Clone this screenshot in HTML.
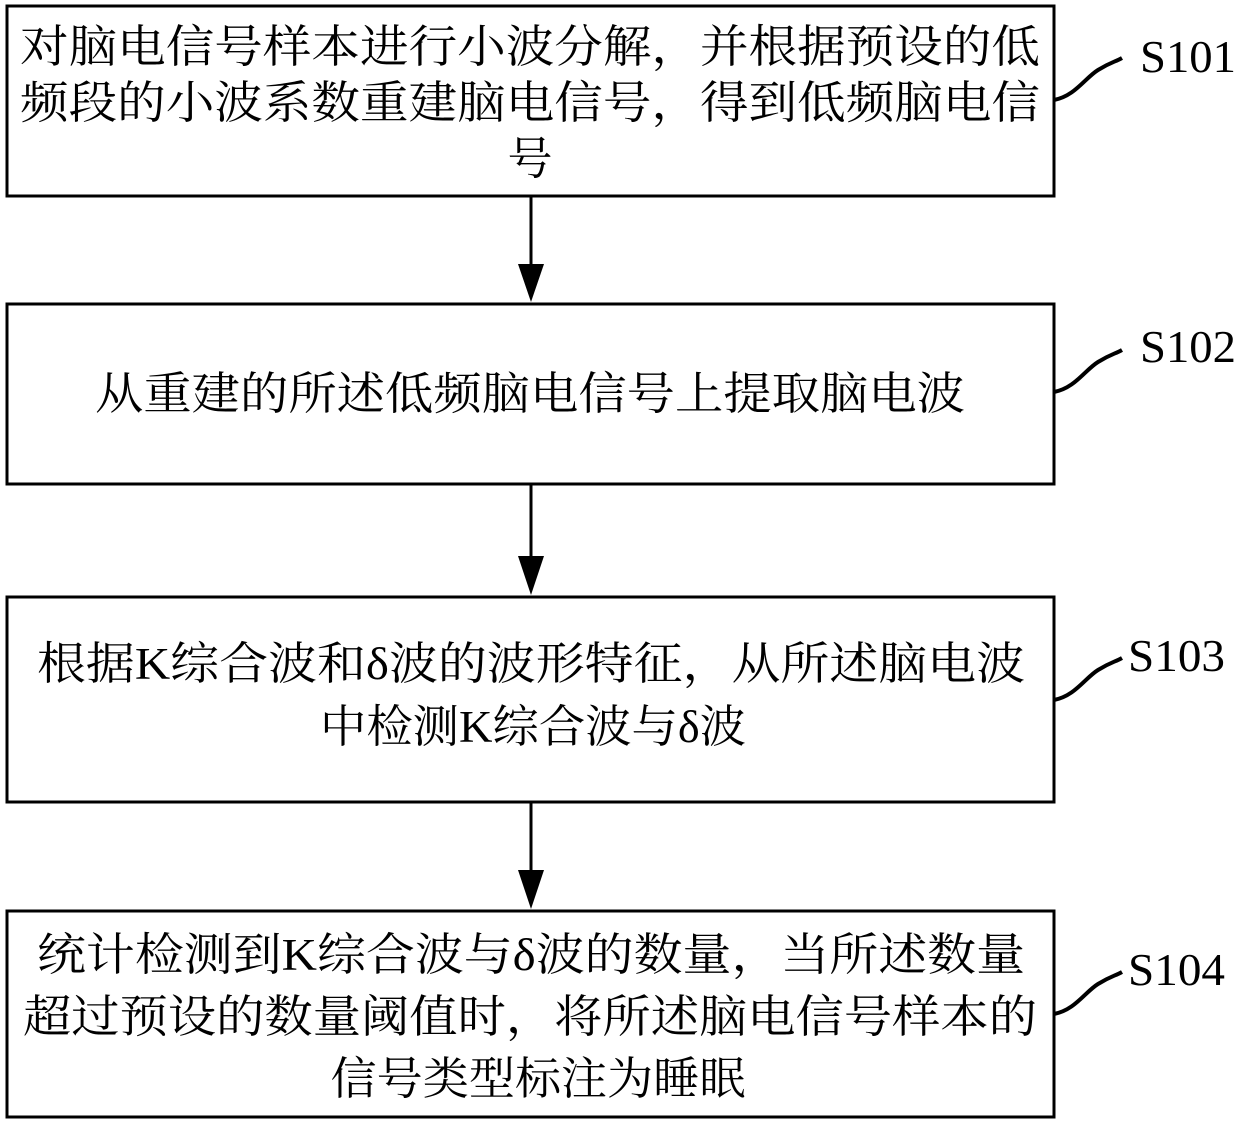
<!DOCTYPE html>
<html><head><meta charset="utf-8"><style>
html,body{margin:0;padding:0;background:#fff;}
svg{display:block;}
text{font-family:"Liberation Serif","Noto Serif CJK SC",serif;fill:#000;}
.c{font-size:45px;}
.l{font-size:46px;}
</style></head><body>
<svg width="1240" height="1125" viewBox="0 0 1240 1125" xmlns="http://www.w3.org/2000/svg">
<g fill="none" stroke="#000" stroke-width="3">
<rect x="7" y="6" width="1047" height="190"/>
<rect x="7" y="304" width="1047" height="180"/>
<rect x="7" y="597" width="1047" height="205"/>
<rect x="7" y="911" width="1047" height="206"/>
<line x1="531" y1="196" x2="531" y2="266"/>
<line x1="531" y1="484" x2="531" y2="558"/>
<line x1="531" y1="802" x2="531" y2="872"/>
<path d="M1054,100 C1075,96 1085,78 1098,70 S1115,62 1122,58" stroke-width="4"/>
<path d="M1054,392 C1075,388 1085,370 1098,362 S1115,354 1122,350" stroke-width="4"/>
<path d="M1054,700 C1075,696 1085,678 1098,670 S1115,662 1122,658" stroke-width="4"/>
<path d="M1054,1014 C1075,1010 1085,992 1098,984 S1115,976 1122,972" stroke-width="4"/>
</g>
<g fill="#000">
<polygon points="518,264 544,264 531,302"/>
<polygon points="518,556 544,556 531,595"/>
<polygon points="518,870 544,870 531,909"/>
</g>
<text class="c" x="530" y="62" text-anchor="middle" textLength="1020" lengthAdjust="spacingAndGlyphs">对脑电信号样本进行小波分解，并根据预设的低</text>
<text class="c" x="530" y="118" text-anchor="middle" textLength="1020" lengthAdjust="spacingAndGlyphs">频段的小波系数重建脑电信号，得到低频脑电信</text>
<text class="c" x="530" y="174" text-anchor="middle">号</text>
<text class="c" x="530" y="409" text-anchor="middle" textLength="870" lengthAdjust="spacingAndGlyphs">从重建的所述低频脑电信号上提取脑电波</text>
<text class="c" x="531" y="679" text-anchor="middle" textLength="988" lengthAdjust="spacingAndGlyphs">根据K综合波和δ波的波形特征，从所述脑电波</text>
<text class="c" x="533" y="742" text-anchor="middle" textLength="426" lengthAdjust="spacingAndGlyphs">中检测K综合波与δ波</text>
<text class="c" x="531" y="970" text-anchor="middle" textLength="988" lengthAdjust="spacingAndGlyphs">统计检测到K综合波与δ波的数量，当所述数量</text>
<text class="c" x="530" y="1032" text-anchor="middle" textLength="1014" lengthAdjust="spacingAndGlyphs">超过预设的数量阈值时，将所述脑电信号样本的</text>
<text class="c" x="538" y="1094" text-anchor="middle" textLength="415" lengthAdjust="spacingAndGlyphs">信号类型标注为睡眠</text>
<text class="l" x="1140" y="72" textLength="96" lengthAdjust="spacingAndGlyphs">S101</text>
<text class="l" x="1140" y="362" textLength="96" lengthAdjust="spacingAndGlyphs">S102</text>
<text class="l" x="1128" y="671" textLength="97" lengthAdjust="spacingAndGlyphs">S103</text>
<text class="l" x="1128" y="985" textLength="97" lengthAdjust="spacingAndGlyphs">S104</text>
</svg>
</body></html>
